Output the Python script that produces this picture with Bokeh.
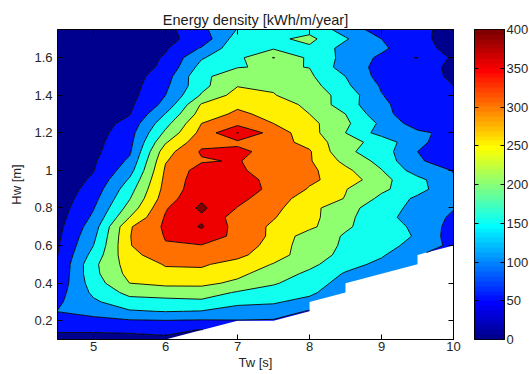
import numpy as np
from bokeh.plotting import figure
from bokeh.layouts import row
from bokeh.models import LinearAxis, FixedTicker, LinearColorMapper
from bokeh.embed import file_html
from bokeh.resources import INLINE

nan = float("nan")

# ---------------- data ----------------
tw_values = [4.5, 5.0, 5.5, 6.0, 6.5, 7.0, 7.5, 8.0, 8.5, 9.0, 9.5, 10.0]
hw_values = [0.10, 0.15, 0.20, 0.25, 0.30, 0.35, 0.40, 0.45, 0.50, 0.55,
             0.60, 0.65, 0.70, 0.75, 0.80, 0.85, 0.90, 0.95, 1.00, 1.05,
             1.10, 1.15, 1.20, 1.25, 1.30, 1.35, 1.40, 1.45, 1.50, 1.55,
             1.60, 1.65, 1.70, 1.75]

# energy density [kWh/m/year], one row per Hw value, one column per Tw value
energy_density = [
    [35, 32, 35, 42, nan, nan, nan, nan, nan, nan, nan, nan],      # 0.10
    [55, 56, 58, 60, 48, nan, nan, nan, nan, nan, nan, nan],       # 0.15
    [78, 86, 95, 98, 95, 98, 95, nan, nan, nan, nan, nan],         # 0.20
    [101, 118, 145, 152, 148, 125, 130, 95, nan, nan, nan, nan],   # 0.25
    [92, 142, 180, 185, 190, 165, 155, 135, nan, nan, nan, nan],   # 0.30
    [80, 160, 215, 222, 225, 195, 180, 160, 115, nan, nan, nan],   # 0.35
    [66, 175, 250, 262, 262, 240, 205, 175, 130, nan, nan, nan],   # 0.40
    [57, 186, 265, 290, 290, 262, 225, 190, 145, 120, nan, nan],   # 0.45
    [52, 188, 273, 303, 305, 285, 247, 212, 169, 137, 110, nan],   # 0.50
    [49, 168, 288, 322, 328, 311, 274, 221, 188, 156, 105, nan],   # 0.55
    [45, 150, 297, 347, 348, 336, 276, 225, 193, 166, 135, 85],    # 0.60
    [40, 138, 298, 353, 375, 339, 289, 224, 196, 175, 145, 75],    # 0.65
    [35, 125, 295, 358, 405, 330, 292, 262, 205, 180, 137, 82],    # 0.70
    [30, 109, 250, 355, 392, 328, 303, 265, 215, 160, 137, 90],    # 0.75
    [25, 97, 219, 345, 410, 348, 312, 268, 212, 182, 129, 103],    # 0.80
    [20, 84, 197, 327, 393, 365, 320, 280, 248, 188, 140, 110],    # 0.85
    [17, 71, 179, 318, 382, 375, 338, 296, 252, 210, 168, 110],    # 0.90
    [15, 58, 156, 313, 379, 372, 335, 308, 281, 215, 165, 105],    # 0.95
    [13, 48, 129, 307, 372, 360, 322, 312, 262, 202, 125, 98],     # 1.00
    [12, 44, 109, 297, 345, 354, 320, 305, 236, 185, 102, 92],     # 1.05
    [11, 38, 92, 280, 356, 362, 332, 305, 210, 175, 100, 90],      # 1.10
    [10, 34, 85, 245, 335, 340, 320, 285, 215, 185, 105, 88],      # 1.15
    [9, 27, 80, 210, 315, 402, 328, 270, 200, 129, 110, 85],       # 1.20
    [9, 22, 67, 183, 300, 335, 300, 265, 210, 140, 75, 80],        # 1.25
    [8, 20, 47, 152, 272, 310, 285, 250, 200, 115, 70, 75],        # 1.30
    [8, 19, 40, 115, 255, 290, 275, 239, 174, 110, 70, 70],        # 1.35
    [7, 17, 33, 100, 205, 270, 252, 228, 181, 102, 68, 65],        # 1.40
    [7, 16, 30, 90, 185, 248, 245, 220, 160, 95, 62, 50],          # 1.45
    [6, 15, 27, 78, 190, 225, 218, 208, 150, 81, 58, 47],          # 1.50
    [6, 14, 24, 60, 168, 198, 205, 199, 125, 86, 60, 45],          # 1.55
    [5, 13, 22, 55, 145, 188, 252, 190, 135, 90, 101, 42],         # 1.60
    [5, 12, 20, 45, 105, 185, 195, 192, 132, 110, 62, 40],         # 1.65
    [5, 11, 18, 38, 68, 175, 190, 212, 155, 100, 58, 38],          # 1.70
    [4, 10, 16, 35, 88, 152, 180, 185, 129, 75, 60, 36],           # 1.75
]

contour_levels = [0, 50, 100, 150, 200, 250, 300, 350, 400, 450]
x_tick_values = [5, 6, 7, 8, 9, 10]
y_tick_values = [0.2, 0.4, 0.6, 0.8, 1.0, 1.2, 1.4, 1.6]
y_tick_labels = ["0.2", "0.4", "0.6", "0.8", "1", "1.2", "1.4", "1.6"]
colorbar_ticks = [0, 50, 100, 150, 200, 250, 300, 350, 400]
colorbar_low, colorbar_high = 0, 400

title_text = "Energy density [kWh/m/year]"
x_label = "Tw [s]"
y_label = "Hw [m]"


# ---------------- MATLAB jet colormap ----------------
def matlab_jet(n=64):
    m = int(np.ceil(n / 4))
    u = np.concatenate([np.arange(1, m + 1) / m, np.ones(m - 1), np.arange(m, 0, -1) / m])
    g = int(np.ceil(m / 2)) - (1 if n % 4 == 1 else 0) + np.arange(1, len(u) + 1)
    r = g + m
    b = g - m
    J = np.zeros((n, 3))
    J[r[r <= n] - 1, 0] = u[r <= n]
    J[g[g <= n] - 1, 1] = u[g <= n]
    J[b[b >= 1] - 1, 2] = u[b >= 1]
    return J


jet = matlab_jet(64)
jet_hex = ["#%02x%02x%02x" % tuple(int(round(c * 255)) for c in rgb) for rgb in jet]


def level_color(v):
    idx = int(np.floor((v - colorbar_low) / (colorbar_high - colorbar_low) * 64))
    return jet_hex[min(max(idx, 0), 63)]


fill_colors = [level_color(v) for v in contour_levels[:-1]]

FONT = "Liberation Sans"
FS = "13px"
TOP = 29
BOTTOM = 34
FRAME_H = 310

# ---------------- main contour plot ----------------
p = figure(frame_width=396, frame_height=FRAME_H,
           x_range=(4.5, 10), y_range=(0.1, 1.75),
           output_backend="svg", toolbar_location=None,
           min_border_left=57, min_border_right=17,
           min_border_top=TOP, min_border_bottom=BOTTOM,
           title=title_text)
p.title.align = "center"
p.title.text_font = FONT
p.title.text_font_size = "14.5px"
p.title.text_font_style = "normal"
p.title.text_color = "#1a1a1a"
p.title.standoff = 4
p.title.offset = 0

z = np.array(energy_density, dtype=float)
cr = p.contour(tw_values, hw_values, z, contour_levels,
               fill_color=fill_colors, line_color="black", line_width=0.9)

p.grid.visible = False
p.outline_line_color = "black"
p.background_fill_color = "white"

p.xaxis.ticker = FixedTicker(ticks=x_tick_values)
p.yaxis.ticker = FixedTicker(ticks=y_tick_values)
p.yaxis.major_label_overrides = {v: s for v, s in zip(y_tick_values, y_tick_labels)}
p.xaxis.axis_label = x_label
p.yaxis.axis_label = y_label

for ax in [p.xaxis[0], p.yaxis[0]]:
    ax.major_tick_in = 5
    ax.major_tick_out = 0
    ax.minor_tick_line_color = None
    ax.axis_line_color = "black"
    ax.major_tick_line_color = "black"
    ax.major_label_text_font = FONT
    ax.major_label_text_font_size = FS
    ax.major_label_text_color = "#262626"
    ax.axis_label_text_font = FONT
    ax.axis_label_text_font_size = FS
    ax.axis_label_text_font_style = "normal"
    ax.axis_label_text_color = "#262626"

p.xaxis.major_label_standoff = 2
p.xaxis.axis_label_standoff = 1
p.yaxis.major_label_standoff = 5
p.yaxis.axis_label_standoff = 7

# box ticks on top and right (no labels drawn)
top_axis = LinearAxis(ticker=FixedTicker(ticks=x_tick_values),
                      major_label_text_color=None, major_label_text_font_size="1px",
                      major_label_standoff=0, major_tick_in=5, major_tick_out=0,
                      minor_tick_line_color=None)
right_axis = LinearAxis(ticker=FixedTicker(ticks=y_tick_values),
                        major_label_text_color=None, major_label_text_font_size="1px",
                        major_label_standoff=0, major_tick_in=5, major_tick_out=0,
                        minor_tick_line_color=None)
p.add_layout(top_axis, "above")
p.add_layout(right_axis, "right")

# ---------------- colour bar ----------------
mapper = LinearColorMapper(palette=jet_hex, low=colorbar_low, high=colorbar_high)
cb = figure(frame_width=30, frame_height=FRAME_H,
            x_range=(0, 1), y_range=(colorbar_low, colorbar_high),
            output_backend="svg", toolbar_location=None,
            min_border_left=4, min_border_right=0,
            min_border_top=TOP, min_border_bottom=BOTTOM,
            x_axis_location=None, y_axis_location="right")
gradient = np.linspace(colorbar_low, colorbar_high, 256).reshape(-1, 1)
cb.image(image=[gradient], x=0, y=colorbar_low, dw=1,
         dh=colorbar_high - colorbar_low, color_mapper=mapper)
cb.grid.visible = False
cb.outline_line_color = "black"
cb.yaxis.ticker = FixedTicker(ticks=colorbar_ticks)
cb.yaxis.major_tick_in = 4
cb.yaxis.major_tick_out = 0
cb.yaxis.minor_tick_line_color = None
cb.yaxis.major_label_text_font = FONT
cb.yaxis.major_label_text_font_size = FS
cb.yaxis.major_label_text_color = "#262626"
cb.yaxis.major_label_standoff = 2
cb_left = LinearAxis(ticker=FixedTicker(ticks=colorbar_ticks),
                     major_label_text_color=None, major_label_text_font_size="1px",
                     major_label_standoff=0, major_tick_in=4, major_tick_out=0,
                     minor_tick_line_color=None)
cb.add_layout(cb_left, "left")

layout = row(p, cb)
open("out.html", "w").write(file_html(layout, INLINE))
